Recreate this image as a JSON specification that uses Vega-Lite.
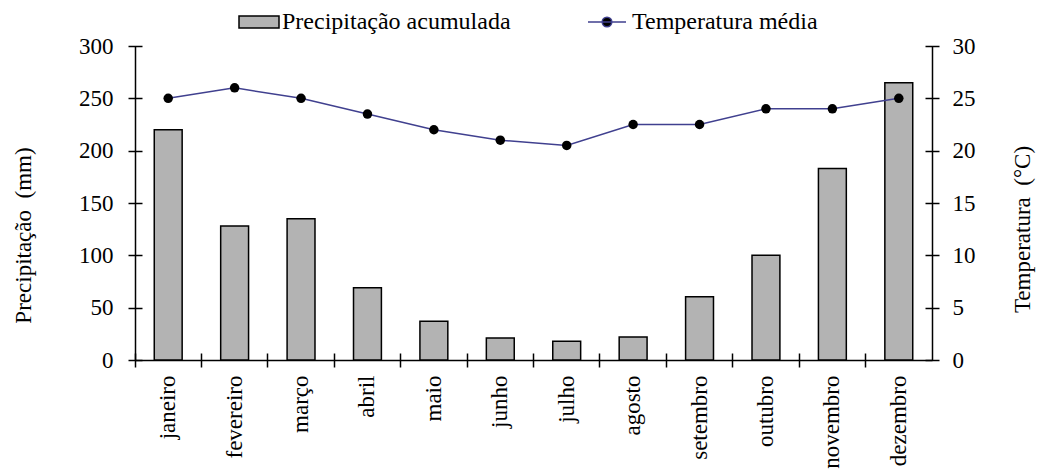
{
  "$schema": "https://vega.github.io/schema/vega-lite/v6.json",
  "width": 797,
  "height": 314,
  "autosize": "none",
  "padding": {"left": 135, "top": 46, "right": 108, "bottom": 113},
  "background": "white",
  "config": {
    "view": {"stroke": null},
    "font": "Liberation Serif",
    "axis": {
      "labelFont": "Liberation Serif", "titleFont": "Liberation Serif",
      "labelFontSize": 23, "titleFontSize": 23, "titleFontWeight": "normal",
      "labelColor": "black", "titleColor": "black",
      "domainColor": "black", "tickColor": "black",
      "domainWidth": 1.5, "tickWidth": 1.5, "grid": false
    },
    "legend": {"labelFont": "Liberation Serif", "labelFontSize": 24, "labelColor": "black", "padding": 0, "labelLimit": 0}
  },
  "data": {"values": [
    {"mes": "janeiro", "prec": 220, "temp": 25},
    {"mes": "fevereiro", "prec": 128, "temp": 26},
    {"mes": "março", "prec": 135, "temp": 25},
    {"mes": "abril", "prec": 69, "temp": 23.5},
    {"mes": "maio", "prec": 37, "temp": 22},
    {"mes": "junho", "prec": 21, "temp": 21},
    {"mes": "julho", "prec": 18, "temp": 20.5},
    {"mes": "agosto", "prec": 22, "temp": 22.5},
    {"mes": "setembro", "prec": 60.5, "temp": 22.5},
    {"mes": "outubro", "prec": 100, "temp": 24},
    {"mes": "novembro", "prec": 183, "temp": 24},
    {"mes": "dezembro", "prec": 265, "temp": 25}
  ]},
  "resolve": {"scale": {"y": "independent"}, "axis": {"y": "independent", "x": "independent"}},
  "layer": [
    {
      "mark": {"type": "bar", "stroke": "black", "strokeWidth": 1.5, "width": {"band": 0.42}},
      "encoding": {
        "x": {"field": "mes", "type": "nominal",
          "sort": ["janeiro","fevereiro","março","abril","maio","junho","julho","agosto","setembro","outubro","novembro","dezembro"],
          "scale": {"paddingInner": 0, "paddingOuter": 0},
          "axis": {"orient": "bottom", "title": null, "labelAngle": -90, "ticks": false, "tickSize": 0, "labelPadding": 15, "domain": true}},
        "y": {"field": "prec", "type": "quantitative", "scale": {"domain": [0, 300]},
          "axis": {"orient": "left", "values": [0,50,100,150,200,250,300], "ticks": false, "tickSize": 0, "labelPadding": 22,
            "title": "Precipitação\u00a0\u00a0(mm)", "titleX": -112, "titleY": 189, "titleAngle": -90,
            "titleBaseline": "middle", "titleAlign": "center"}},
        "fill": {"datum": "Precipitação acumulada", "type": "nominal", "scale": {"range": ["#b3b3b3"]},
          "legend": {"title": null, "orient": "none", "legendX": 103, "legendY": -45,
            "symbolType": "M-1,-0.3H1V0.3H-1Z", "symbolSize": 1600,
            "symbolStrokeColor": "black", "symbolStrokeWidth": 1.5, "labelOffset": 2}}
      }
    },
    {
      "mark": {"type": "bar", "opacity": 0},
      "encoding": {
        "x": {"field": "mes", "type": "nominal",
          "sort": ["janeiro","fevereiro","março","abril","maio","junho","julho","agosto","setembro","outubro","novembro","dezembro"],
          "axis": {"orient": "bottom", "title": null, "labels": false, "domain": false, "bandPosition": 0, "tickSize": 14, "offset": -7}},
        "y": {"field": "prec", "type": "quantitative", "scale": {"domain": [0, 300]},
          "axis": {"orient": "left", "values": [0,50,100,150,200,250,300], "title": null, "labels": false, "domain": false, "tickSize": 14, "offset": -7}}
      }
    },
    {
      "mark": {"type": "line", "strokeWidth": 1.5},
      "encoding": {
        "x": {"field": "mes", "type": "nominal",
          "sort": ["janeiro","fevereiro","março","abril","maio","junho","julho","agosto","setembro","outubro","novembro","dezembro"],
          "axis": null},
        "y": {"field": "temp", "type": "quantitative", "scale": {"domain": [0, 30]},
          "axis": {"orient": "right", "values": [0,5,10,15,20,25,30], "ticks": false, "tickSize": 0, "labelPadding": 20,
            "title": "Temperatura\u00a0\u00a0(°C)", "titleX": 90, "titleY": 183, "titleAngle": -90,
            "titleBaseline": "middle", "titleAlign": "center"}},
        "stroke": {"datum": "Temperatura média", "type": "nominal", "scale": {"range": ["#40408f"]},
          "legend": {"title": null, "orient": "none", "legendX": 451, "legendY": -45,
            "symbolType": "M-0.95,0H0.95M0.24,0A0.24,0.24 0 1,1 -0.24,0A0.24,0.24 0 1,1 0.24,0",
            "symbolSize": 1600, "symbolFillColor": "black", "symbolStrokeWidth": 1.5, "labelOffset": 4,
            "encode": {"symbols": {"update": {"fill": {"value": "black"}}}}}}
      }
    },
    {
      "mark": {"type": "point", "filled": true, "color": "black", "size": 90, "opacity": 1},
      "encoding": {
        "x": {"field": "mes", "type": "nominal",
          "sort": ["janeiro","fevereiro","março","abril","maio","junho","julho","agosto","setembro","outubro","novembro","dezembro"],
          "axis": null},
        "y": {"field": "temp", "type": "quantitative", "scale": {"domain": [0, 30]},
          "axis": {"orient": "right", "values": [0,5,10,15,20,25,30], "title": null, "labels": false, "domain": false, "tickSize": 14, "offset": -7}}
      }
    }
  ]
}
